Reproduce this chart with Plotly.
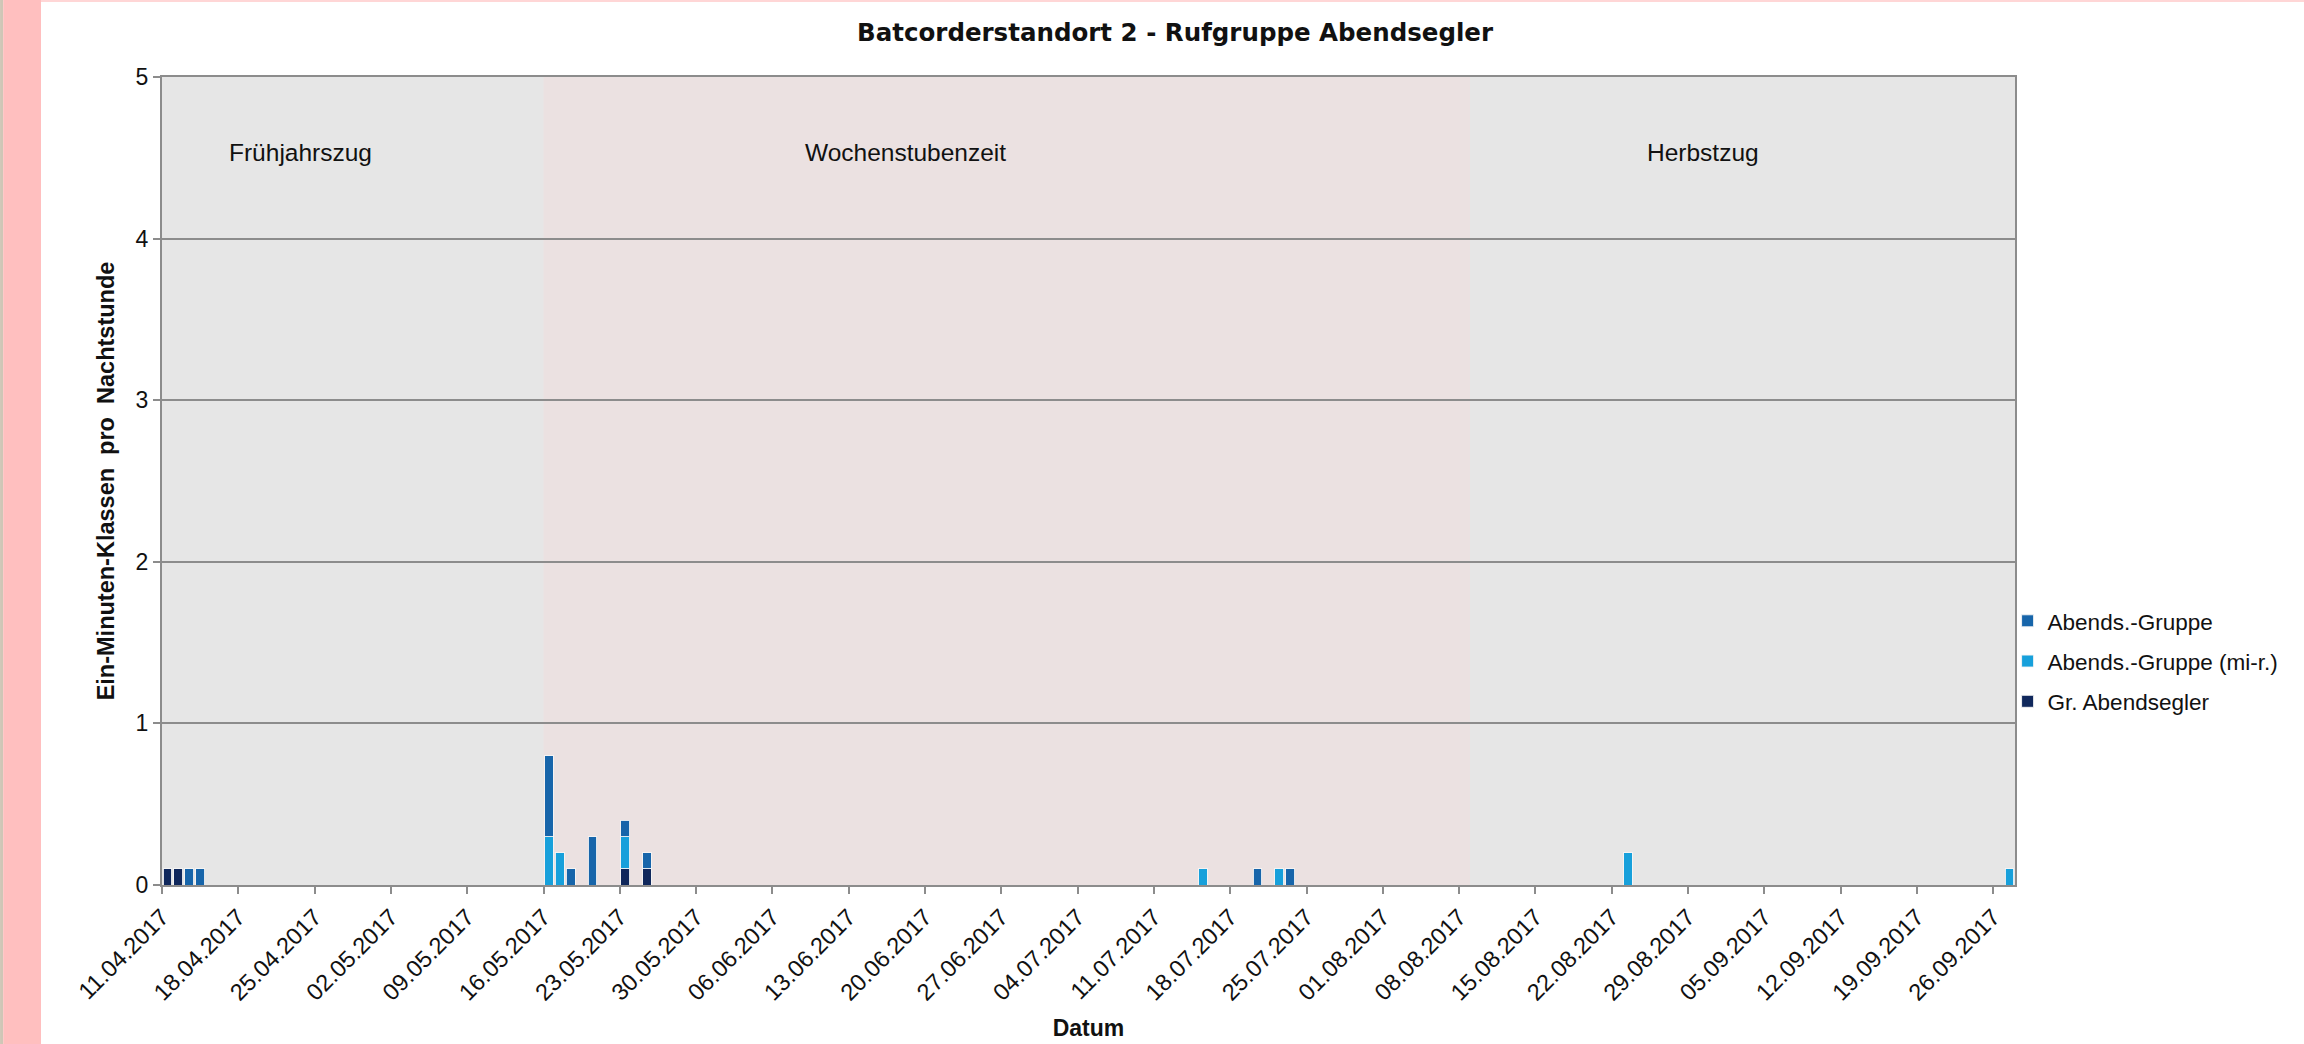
import plotly.graph_objects as go

# ---- data ----
dates_gr = ["2017-04-11", "2017-04-12", "2017-05-23", "2017-05-25"]
vals_gr = [0.1, 0.1, 0.1, 0.1]

dates_mir = ["2017-05-16", "2017-05-17", "2017-05-23", "2017-07-15", "2017-07-22", "2017-08-23", "2017-09-27"]
vals_mir = [0.3, 0.2, 0.2, 0.1, 0.1, 0.2, 0.1]

dates_ab = ["2017-04-13", "2017-04-14", "2017-05-16", "2017-05-18", "2017-05-20", "2017-05-23", "2017-05-25", "2017-07-20", "2017-07-23"]
vals_ab = [0.1, 0.1, 0.5, 0.1, 0.3, 0.1, 0.1, 0.1, 0.1]

phases = ["Frühjahrszug", "Wochenstubenzeit", "Herbstzug"]
phase_start = ["2017-04-11", "2017-05-16", "2017-08-09"]
phase_end = ["2017-05-16", "2017-08-09", "2017-09-28"]
phase_label_x = [0.075, 0.4015, 0.8316]

# stacking order bottom -> top; legend rank sets legend order top -> bottom
series = [
    ("Gr. Abendsegler", dates_gr, vals_gr, "#10285C", 3),
    ("Abends.-Gruppe (mi-r.)", dates_mir, vals_mir, "#17A0DB", 2),
    ("Abends.-Gruppe", dates_ab, vals_ab, "#1765AA", 1),
]

FONT = "Liberation Sans, Arial, sans-serif"
DAY = 86400000

fig = go.Figure()
for name, d, v, c, rank in series:
    fig.add_trace(go.Bar(
        x=d, y=v, name=name,
        xperiod=DAY, xperiodalignment="middle",
        width=0.8 * DAY,
        marker=dict(color=c, line=dict(color="rgba(245,245,245,0.9)", width=1)),
        legendgroup=name, legendrank=rank,
    ))

# phase background (middle period shaded pink)
fig.add_shape(type="rect", xref="x", yref="paper",
              x0=phase_start[1], x1=phase_end[1], y0=0, y1=1,
              fillcolor="#EBE1E1", line_width=0, layer="below")

for lbl, px in zip(phases, phase_label_x):
    fig.add_annotation(text=lbl, xref="paper", yref="paper", x=px, y=0.907,
                       xanchor="center", yanchor="middle",
                       showarrow=False, font=dict(family=FONT, size=24.5, color="#111111"))

# decorative page edges
fig.add_shape(type="rect", xref="paper", yref="paper",
              x0=-0.0874, x1=-0.0857, y0=-0.2, y1=1.1,
              fillcolor="#CFC6B6", line_width=0, layer="above")
fig.add_shape(type="rect", xref="paper", yref="paper",
              x0=-0.0857, x1=-0.0653, y0=-0.2, y1=1.1,
              fillcolor="#FFBFBF", line_width=0, layer="above")
fig.add_shape(type="rect", xref="paper", yref="paper",
              x0=-0.0653, x1=1.2, y0=1.0928, y1=1.1,
              fillcolor="#FFD6D6", line_width=0, layer="above")

fig.update_layout(
    width=2304, height=1044,
    margin=dict(l=162, r=289, t=77, b=159),
    paper_bgcolor="white",
    plot_bgcolor="#E6E6E6",
    barmode="stack",
    font=dict(family=FONT, size=22, color="#111111"),
    title=dict(text="<b>Batcorderstandort 2 - Rufgruppe Abendsegler</b>",
               x=0.51, xref="container", xanchor="center",
               y=0.969, yref="container", yanchor="middle",
               font=dict(family="DejaVu Sans, sans-serif", size=24.5, color="#111111")),
    legend=dict(x=0.996, xanchor="left", y=0.277, yanchor="middle",
                traceorder="grouped", tracegroupgap=8,
                font=dict(family=FONT, size=22.5, color="#111111"),
                bgcolor="rgba(0,0,0,0)"),
    showlegend=True,
)

fig.update_xaxes(
    type="date",
    range=[phase_start[0], phase_end[2]],
    tick0=phase_start[0], dtick=7 * DAY,
    tickformat="%d.%m.%Y", tickangle=-45,
    ticks="outside", ticklen=7, tickwidth=1.5, tickcolor="#8C8C8C",
    showgrid=False, showline=True, linecolor="#8C8C8C", linewidth=2, mirror=True,
    automargin=False,
    tickfont=dict(family=FONT, size=23.5, color="#111111"),
    title=dict(text="<b>Datum</b>", font=dict(family=FONT, size=23, color="#111111"), standoff=15),
)
fig.update_yaxes(
    range=[0, 5], dtick=1,
    ticks="outside", ticklen=7, tickwidth=1.5, tickcolor="#8C8C8C",
    showgrid=True, gridcolor="#8C8C8C", gridwidth=1.5,
    showline=True, linecolor="#8C8C8C", linewidth=2, mirror=True,
    zeroline=False,
    tickfont=dict(family=FONT, size=23, color="#111111"),
    title=dict(text="<b>Ein-Minuten-Klassen  pro  Nachtstunde</b>",
               font=dict(family=FONT, size=23.5, color="#111111"), standoff=14),
)

fig.write_html("out.html", config={"displayModeBar": False},
               post_script="document.body.style.margin='0';")
